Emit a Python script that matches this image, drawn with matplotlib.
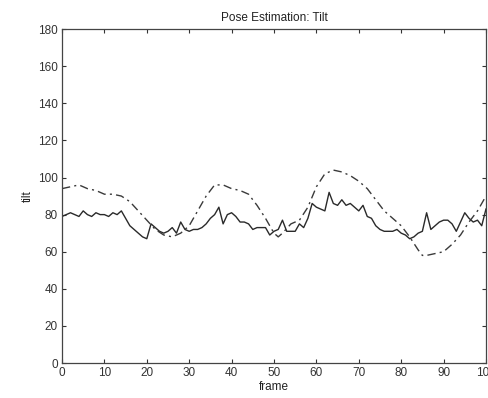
import matplotlib
matplotlib.use("Agg")
import matplotlib.pyplot as plt
import numpy as np

# ── Data ─────────────────────────────────────────────────────────────────────
frames = np.arange(0, 101)
tilt_measured = [
    79, 80, 81, 80, 79, 82, 80, 79, 81, 80,
    80, 79, 81, 80, 82, 78, 74, 72, 70, 68,
    67, 75, 73, 71, 70, 71, 73, 70, 76, 72,
    71, 72, 72, 73, 75, 78, 80, 84, 75, 80,
    81, 79, 76, 76, 75, 72, 73, 73, 73, 69,
    71, 72, 77, 71, 71, 71, 75, 73, 78, 86,
    84, 83, 82, 92, 86, 85, 88, 85, 86, 84,
    82, 85, 79, 78, 74, 72, 71, 71, 71, 72,
    70, 69, 67, 68, 70, 71, 81, 72, 74, 76,
    77, 77, 75, 71, 76, 81, 78, 76, 77, 74,
    83,
]

est_frames = [0, 2, 4, 6, 8, 10, 12, 14, 16, 18, 20, 22, 24, 26, 28, 30,
              32, 34, 36, 38, 40, 42, 44, 46, 48, 50, 51, 52, 54, 56, 58,
              60, 62, 64, 66, 68, 70, 72, 74, 76, 78, 80, 82, 84, 85, 86,
              88, 90, 92, 94, 96, 98, 100]
tilt_estimated = [94, 95, 96, 94, 93, 91, 91, 90, 87, 82, 77, 72, 69, 68, 70, 74,
                  82, 90, 96, 96, 94, 93, 91, 85, 78, 70, 68, 70, 75, 77, 84,
                  95, 102, 104, 103, 101, 98, 94, 88, 82, 78, 74, 68, 61, 58, 58,
                  59, 60, 64, 69, 76, 82, 90]

x_ticks = list(range(0, 101, 10))
y_ticks = list(range(0, 181, 20))

# ── Plot ──────────────────────────────────────────────────────────────────────
plt.rcParams["font.family"] = ["Liberation Sans", "DejaVu Sans"]

fig = plt.figure(figsize=(4.89, 3.98), dpi=100)
ax = fig.add_axes([0.1268, 0.0879, 0.867, 0.839])

ax.plot(frames, tilt_measured, color="#2a2a2a", linewidth=1.0)
ax.plot(est_frames, tilt_estimated, color="#3a3a3a", linewidth=1.0,
        dashes=(6, 3, 1.5, 3))

ax.set_xlim(0, 100)
ax.set_ylim(0, 180)
ax.set_xticks(x_ticks)
ax.set_yticks(y_ticks)
ax.tick_params(direction="in", top=True, right=True, length=3,
               labelsize=8.5, colors="#333333", pad=3)
for sp in ax.spines.values():
    sp.set_color("#444444")
    sp.set_linewidth(0.9)

ax.set_title("Pose Estimation: Tilt", fontsize=8.5, pad=6, color="#222222")
ax.set_xlabel("frame", fontsize=8.5, labelpad=1, color="#222222")
ax.set_ylabel("tilt", fontsize=8.5, labelpad=3, color="#222222")

fig.savefig("out.png", dpi=100)
